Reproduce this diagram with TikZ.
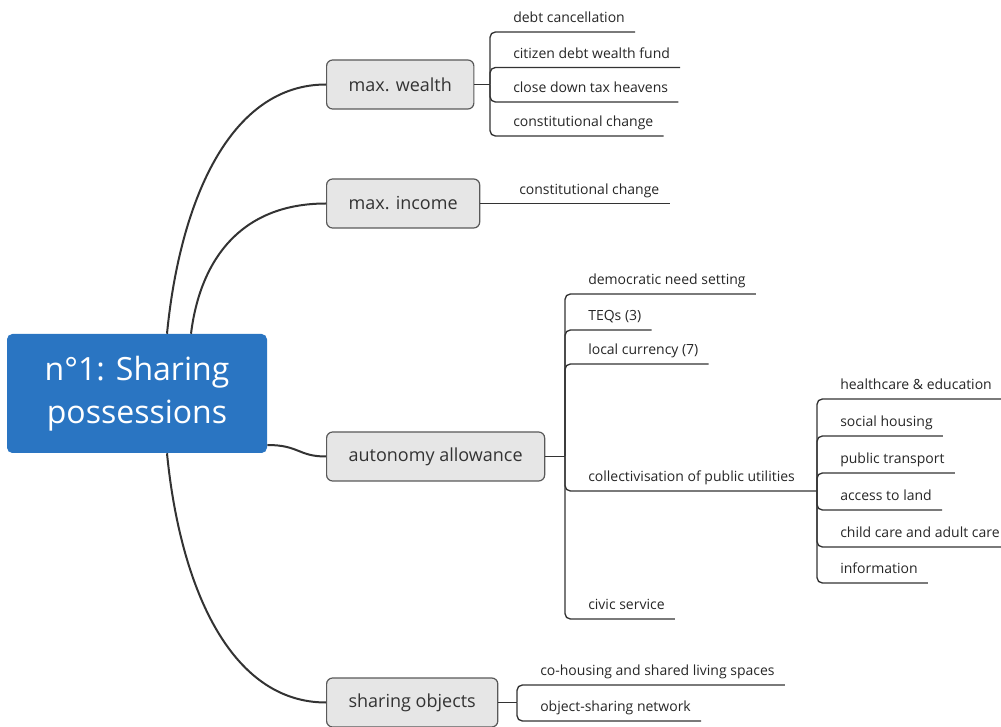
\documentclass[tikz,border=0pt]{standalone}
\usepackage{fontspec}
\setmainfont{Open Sans}
\usepackage{tikz}
\usetikzlibrary{calc}
\definecolor{rootblue}{HTML}{2A75C2}
\definecolor{topicgray}{HTML}{E6E6E6}
\definecolor{linegray}{HTML}{333333}

\begin{document}
\begin{tikzpicture}[
x=0.75pt, y=-0.75pt,
central/.style={fill=rootblue, text=white, rounded corners=4pt, minimum width=195pt, minimum height=89.25pt, align=center, font=\fontsize{24}{32}\selectfont},
topic/.style={anchor=west, draw=black!65, line width=0.9pt, fill=topicgray, text=black!80, rounded corners=4.5pt, minimum height=36.75pt, inner xsep=16.5pt, font=\fontsize{13.5}{16}\selectfont},
leaf/.style={anchor=south west, inner xsep=7.5pt, inner ysep=4.25pt, text depth=2.5pt, text=black!85, font=\fontsize{10.5}{12}\selectfont},
mainline/.style={draw=linegray, line width=1.5pt},
subline/.style={draw=linegray, line width=1pt, rounded corners=4pt}
]
    \useasboundingbox (0,0) rectangle (1001,727);

    % Central topic and main topics
    \node[central] (root) at (137,393.5) {n°1: Sharing\\possessions};
    \node[topic] (wealth) at (326,84.5) {max. wealth};
    \node[topic] (income) at (326,203.5) {max. income};
    \node[topic] (autonomy) at (326,456.5) {autonomy allowance};
    \node[topic] (sharing) at (326,702.5) {sharing objects};

    % Curves from the central topic
    \draw[mainline] ($(root.north)+(30,0)$) .. controls +(13,-133) and +(-96,0) .. (wealth.west);
    \draw[mainline] ($(root.north)+(54,0)$) .. controls +(9,-73) and +(-86,0) .. (income.west);
    \draw[mainline] ($(root.east)+(0,51.5)$) .. controls +(32,0) and +(-28,0) .. (autonomy.west);
    \draw[mainline] ($(root.south)+(30,0)$) .. controls +(13,133) and +(-96,0) .. (sharing.west);

    % Bracket points
    \draw
  	(490,84.5) coordinate (wb)
  	(565,456.5) coordinate (ab)
  	(817,491) coordinate (cb)
  	(517,702.5) coordinate (sb);

    % max. wealth
    \node[leaf] (debt) at (503,32) {debt cancellation};
    \node[leaf] (fund) at (503,67.5) {citizen debt wealth fund};
    \node[leaf] (haven) at (503,102) {close down tax heavens};
    \node[leaf] (constw) at (503,136) {constitutional change};
    \draw[subline] (wealth.east) -- (wb);
    \foreach \n in {debt,fund,haven,constw}
        \draw[subline] (wb) |- (\n.south east);

    % max. income
    \node[leaf] (consti) at (509,203.5) {constitutional change};
    \draw[subline] (income.east) -- (consti.south east);

    % autonomy allowance
    \node[leaf] (need) at (578,294) {democratic need setting};
    \node[leaf] (teq) at (578,330) {TEQs (3)};
    \node[leaf] (currency) at (578,364) {local currency (7)};
    \node[leaf] (utilities) at (578,491) {collectivisation of public utilities};
    \node[leaf] (civic) at (578,619) {civic service};
    \draw[subline] (autonomy.east) -- (ab);
    \foreach \n in {need,teq,currency,civic}
        \draw[subline] (ab) |- (\n.south east);
    \draw[subline] (ab) |- (cb);

    % collectivisation of public utilities
    \node[leaf] (health) at (830,399) {healthcare \& education};
    \node[leaf] (housing) at (830,436) {social housing};
    \node[leaf] (transport) at (830,473) {public transport};
    \node[leaf] (land) at (830,510) {access to land};
    \node[leaf] (care) at (830,547) {child care and adult care};
    \node[leaf] (info) at (830,583) {information};
    \foreach \n in {health,housing,transport,land,care,info}
        \draw[subline] (cb) |- (\n.south east);

    % sharing objects
    \node[leaf] (cohousing) at (530,685) {co-housing and shared living spaces};
    \node[leaf] (network) at (530,721) {object-sharing network};
    \draw[subline] (sharing.east) -- (sb);
    \foreach \n in {cohousing,network}
        \draw[subline] (sb) |- (\n.south east);

\end{tikzpicture}
\end{document}
